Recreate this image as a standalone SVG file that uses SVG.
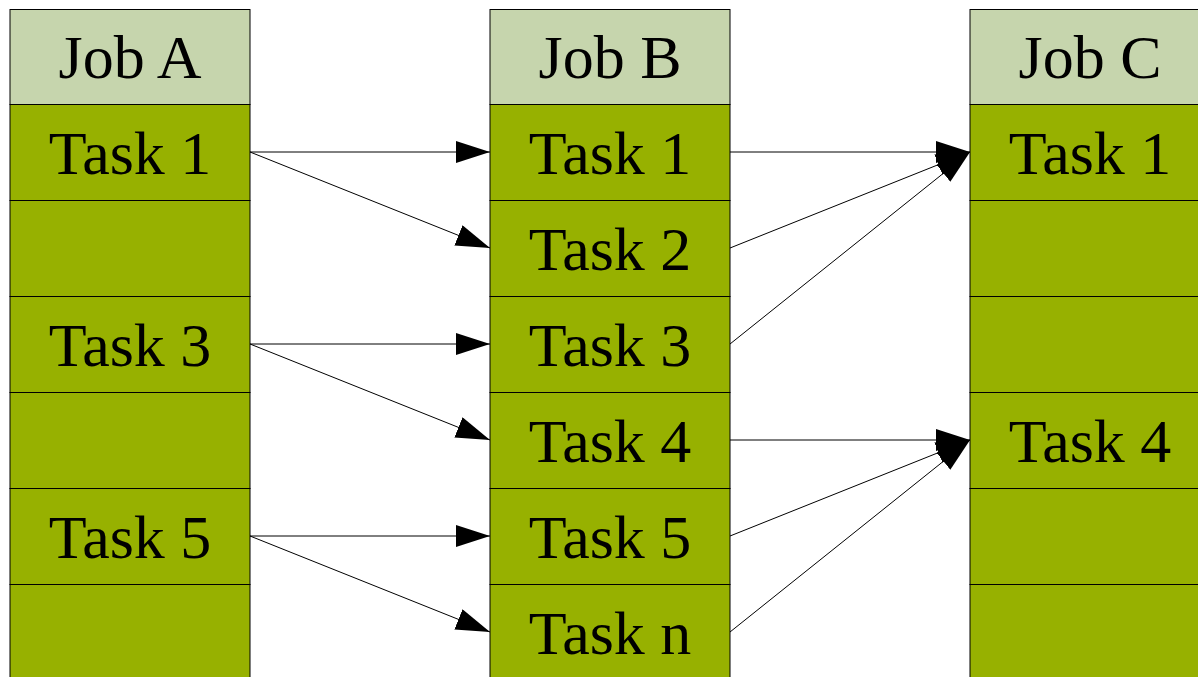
<svg xmlns="http://www.w3.org/2000/svg" width="1198" height="677" viewBox="0 0 1198 677">
  <style>
    .head { fill: #C6D5AD; stroke: #000; stroke-width: 1; }
    .cell { fill: #97B100; stroke: #000; stroke-width: 1; }
    .lbl { font-family: "Liberation Serif", "Times New Roman", serif; font-size: 62px; fill: #000; text-anchor: middle; }
    .edge { stroke: #000; stroke-width: 1; fill: none; marker-end: url(#arrow); }
  </style>
  <defs>
    <marker id="arrow" markerUnits="userSpaceOnUse" markerWidth="34" markerHeight="22" refX="34" refY="11" orient="auto">
      <path d="M0,0 L34,11 L0,22 z" fill="#000"/>
    </marker>
  </defs>
  <rect width="1198" height="677" fill="#fff"/>

  <!-- Job A column -->
  <g id="jobA">
    <rect class="head" x="10" y="9.5" width="240" height="95"/>
    <rect class="cell" x="10" y="104.5" width="240" height="96"/>
    <rect class="cell" x="10" y="200.5" width="240" height="96"/>
    <rect class="cell" x="10" y="296.5" width="240" height="96"/>
    <rect class="cell" x="10" y="392.5" width="240" height="96"/>
    <rect class="cell" x="10" y="488.5" width="240" height="96"/>
    <rect class="cell" x="10" y="584.5" width="240" height="96"/>
    <text class="lbl" x="130" y="78">Job A</text>
    <text class="lbl" x="130" y="174">Task 1</text>
    <text class="lbl" x="130" y="366">Task 3</text>
    <text class="lbl" x="130" y="558">Task 5</text>
  </g>

  <!-- Job B column -->
  <g id="jobB">
    <rect class="head" x="490" y="9.5" width="240" height="95"/>
    <rect class="cell" x="490" y="104.5" width="240" height="96"/>
    <rect class="cell" x="490" y="200.5" width="240" height="96"/>
    <rect class="cell" x="490" y="296.5" width="240" height="96"/>
    <rect class="cell" x="490" y="392.5" width="240" height="96"/>
    <rect class="cell" x="490" y="488.5" width="240" height="96"/>
    <rect class="cell" x="490" y="584.5" width="240" height="96"/>
    <text class="lbl" x="610" y="78">Job B</text>
    <text class="lbl" x="610" y="174">Task 1</text>
    <text class="lbl" x="610" y="270">Task 2</text>
    <text class="lbl" x="610" y="366">Task 3</text>
    <text class="lbl" x="610" y="462">Task 4</text>
    <text class="lbl" x="610" y="558">Task 5</text>
    <text class="lbl" x="610" y="654">Task n</text>
  </g>

  <!-- Job C column -->
  <g id="jobC">
    <rect class="head" x="970" y="9.5" width="240" height="95"/>
    <rect class="cell" x="970" y="104.5" width="240" height="96"/>
    <rect class="cell" x="970" y="200.5" width="240" height="96"/>
    <rect class="cell" x="970" y="296.5" width="240" height="96"/>
    <rect class="cell" x="970" y="392.5" width="240" height="96"/>
    <rect class="cell" x="970" y="488.5" width="240" height="96"/>
    <rect class="cell" x="970" y="584.5" width="240" height="96"/>
    <text class="lbl" x="1090" y="78">Job C</text>
    <text class="lbl" x="1090" y="174">Task 1</text>
    <text class="lbl" x="1090" y="462">Task 4</text>
  </g>

  <!-- dependencies -->
  <g id="connectors">
    <line class="edge" x1="250" y1="152" x2="490" y2="152"/>
    <line class="edge" x1="250" y1="152" x2="490" y2="248"/>
    <line class="edge" x1="250" y1="344" x2="490" y2="344"/>
    <line class="edge" x1="250" y1="344" x2="490" y2="440"/>
    <line class="edge" x1="250" y1="536" x2="490" y2="536"/>
    <line class="edge" x1="250" y1="536" x2="490" y2="632"/>
    <line class="edge" x1="730" y1="152" x2="970" y2="152"/>
    <line class="edge" x1="730" y1="248" x2="970" y2="152"/>
    <line class="edge" x1="730" y1="344" x2="970" y2="152"/>
    <line class="edge" x1="730" y1="440" x2="970" y2="440"/>
    <line class="edge" x1="730" y1="536" x2="970" y2="440"/>
    <line class="edge" x1="730" y1="632" x2="970" y2="440"/>
  </g>
</svg>
